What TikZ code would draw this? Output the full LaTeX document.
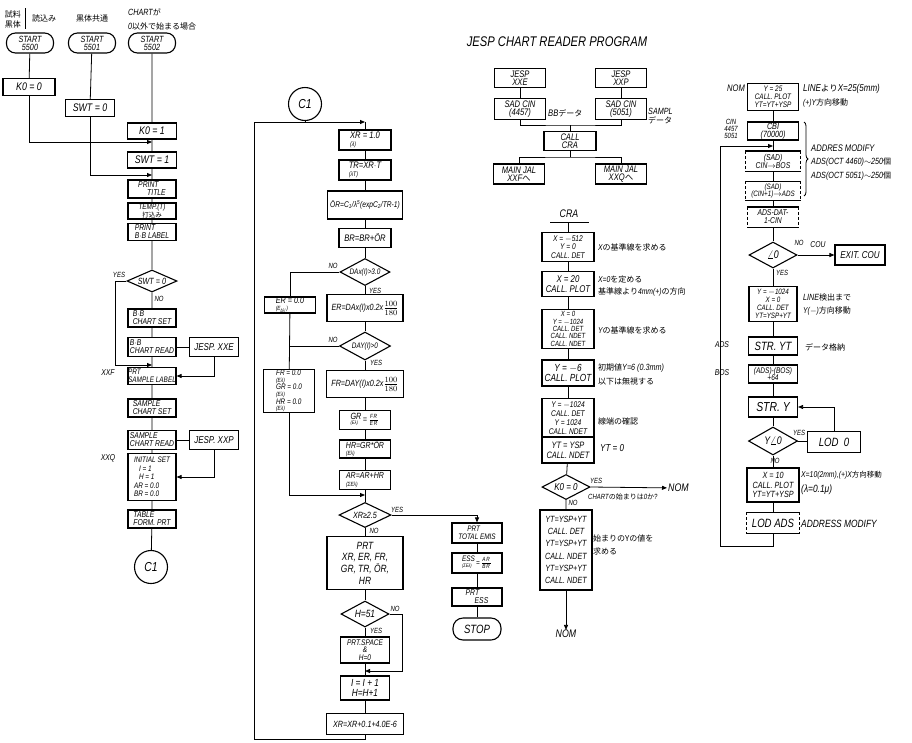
\documentclass[tikz,border=0pt]{standalone}
\usepackage{fontspec}
\setmainfont{Liberation Sans}[FakeStretch=0.8]
\newfontfamily\jpf{Noto Sans CJK JP}
\usetikzlibrary{arrows.meta,shapes.geometric,decorations.pathreplacing}
\newcommand{\jt}[1]{{\jpf\upshape #1}}
\newcommand{\fz}[2]{\fontsize{#1}{#2}\selectfont\itshape}
\newcommand{\dsides}[1]{%
  \draw[line width=1.1pt] (#1.north west) -- (#1.north east) (#1.south west) -- (#1.south east);
  \draw[line width=1.1pt, dash pattern=on 3pt off 2pt] (#1.north west) -- (#1.south west) (#1.north east) -- (#1.south east);}
\tikzset{
 wh/.style 2 args={minimum width=#1pt, minimum height=#2pt},
 bx/.style={draw, line width=1.1pt, inner sep=0pt, align=center, font=\fz{8.5}{8}},
 bxd/.style={bx, draw=none},
 term/.style={bx, rounded corners=9pt, font=\fz{9}{8}},
 dia/.style={draw, diamond, line width=1.1pt, inner sep=0pt, aspect=2, font=\fz{9}{9}},
 conn/.style={draw, circle, line width=1.1pt, minimum size=33pt, inner sep=0pt, font=\fz{13}{13}},
 ln/.style={line width=0.8pt},
 arr/.style={ln, -{Triangle[length=5pt,width=4pt]}},
 lab/.style={inner sep=0pt, font=\fz{7.5}{7.5}},
 note/.style={inner sep=0pt, anchor=west, font=\fz{8.5}{9}, align=left},
}
\begin{document}
\begin{tikzpicture}[x=1pt,y=-1pt]
\fill[white] (0,0) rectangle (912,742);
\useasboundingbox (0,0) rectangle (912,742);

% ---------------- column 1 ----------------
\node[lab, font=\jpf\fontsize{8}{10}\selectfont, align=center] (t1a) at (13,19) {試料\\黒体};
\coordinate (bar1) at (25,8); \coordinate (bar2) at (25,29);
\draw[line width=0.5pt] (bar1) -- (bar2);
\node[lab, font=\jpf\fontsize{8}{9}\selectfont] (t1b) at (44,18) {読込み};
\node[lab, font=\jpf\fontsize{8}{9}\selectfont] (t2) at (92,18) {黒体共通};
\node[note, font=\fz{9}{9}] (t3a) at (128,12) {CHART\jt{\fontsize{8}{9}\selectfont が}};
\node[note, font=\fz{9}{9}] (t3b) at (128,26) {0\jt{\fontsize{8}{9}\selectfont 以外で始まる場合}};

\node[term, wh={47}{20}] (s1) at (30,43) {START\\5500};
\node[term, wh={47}{20}] (s2) at (92,43) {START\\5501};
\node[term, wh={47}{20}] (s3) at (152,43) {START\\5502};

\node[bx, wh={52}{17}, font=\fz{11}{11}] (k00) at (29,87) {K0 = 0};
\node[bx, wh={49}{17}, font=\fz{11}{11}] (swt0) at (90,108) {SWT = 0};
\node[bx, wh={49}{16}, font=\fz{11}{11}] (k01) at (152,131) {K0 = 1};
\node[bx, wh={49}{16}, font=\fz{11}{11}] (swt1) at (152,160) {SWT = 1};
\node[bx, wh={48}{18}, align=left] (ptitle) at (152,189) {PRINT\\\hspace{9pt}TITLE};
\node[bx, wh={48}{16}, font=\fz{8}{7.5}] (temp) at (152,211) {TEMP.(T)\\\jt{\fontsize{6.5}{6.5}\selectfont 打込み}};
\node[bx, wh={48}{17}, align=left] (pbb) at (152,232) {PRINT\\B$\cdot$B LABEL};
\node[dia, wh={50}{22}] (dswt) at (152,281) {SWT = 0};
\node[bx, wh={48}{18}, align=left] (bbset) at (152,318) {B$\cdot$B\\CHART SET};
\node[bx, wh={48}{19}, align=left] (bbread) at (152,347) {B$\cdot$B\\CHART READ};
\node[bx, wh={49}{19}, font=\fz{10}{10}] (jxxe) at (214,347) {JESP. XXE};
\node[bx, wh={48}{17}, align=left, font=\fz{8}{7.8}] (psl) at (152,376) {PRT\\SAMPLE LABEL};
\node[bx, wh={48}{18}, align=left] (sset) at (152,408) {SAMPLE\\CHART SET};
\node[bx, wh={48}{19}, align=left] (sread) at (152,440) {SAMPLE\\CHART READ};
\node[bx, wh={49}{19}, font=\fz{10}{10}] (jxxp) at (214,440) {JESP. XXP};
\node[bx, wh={48}{47}, align=left, font=\fz{8}{8.4}] (init) at (152,477) {INITIAL SET\\\hspace{5pt}I = 1\\\hspace{5pt}H = 1\\AR = 0.0\\BR = 0.0};
\node[bx, wh={48}{18}, align=left] (table) at (152,519) {TABLE\\FORM. PRT};
\node[conn] (c1a) at (151,567) {C1};

\coordinate (j1) at (152,142);
\coordinate (j2) at (152,175);
\coordinate (j3) at (152,365);
\coordinate (yl) at (115,281);
\draw[ln] (s1) -- (k00);
\draw[ln] (s2) -- (swt0);
\draw[arr] (k00) |- (j1);
\draw[arr] (swt0) |- (j2);
\draw[ln] (s3) -- (k01) -- (swt1) -- (ptitle) -- (temp) -- (pbb) -- (dswt) -- (bbset) -- (bbread) -- (psl) -- (sset) -- (sread) -- (init) -- (table) -- (c1a);
\draw[ln] (bbread) -- (jxxe);
\draw[ln] (sread) -- (jxxp);
\draw[arr] (jxxe) |- (psl);
\draw[arr] (jxxp) |- (init);
\draw[arr] (dswt.west) -- (yl) |- (j3);
\node[lab] (ly1) at (119,275) {YES};
\node[lab] (ln1) at (159,299) {NO};
\node[lab, font=\fz{8.5}{8.5}] (lxxf) at (108,373) {XXF};
\node[lab, font=\fz{8.5}{8.5}] (lxxq) at (108,458) {XXQ};

% ---------------- column 2 ----------------
\node[conn] (c1b) at (305,104) {C1};
\node[bx, wh={52}{20}, align=left, font=\fz{9.5}{7.8}] (xr) at (365,140) {XR = 1.0\\{\fz{6.5}{6.5}(λ)}};
\node[bx, wh={52}{20}, align=left, font=\fz{9.5}{7.8}] (tr) at (365,170) {TR=XR$\cdot$T\\{\fz{6.5}{6.5}(λT)}};
\node[bx, wh={75}{28}, font=\fz{8.3}{8}] (or) at (365,205) {ÖR=C\textsubscript{1}/λ\textsuperscript{5}(expC\textsubscript{2}/TR-1)};
\node[bx, wh={52}{19}, font=\fz{9.5}{9}] (br) at (365,238) {BR=BR+ÖR};
\node[dia, wh={50}{27}, font=\fz{8}{8}] (d1) at (365,272) {DAx(I)>3.0};
\node[bx, wh={51}{16}, align=left, font=\fz{9}{7}] (er0) at (290,305) {ER = 0.0\\{\fz{6}{6}(E\textsubscript{bλ'})}};
\node[bx, wh={76}{27}, font=\fz{9}{8}] (er) at (365,308) {ER=DAx(I)x0.2x{\large$\frac{100}{180}$}};
\node[dia, wh={51}{28}, font=\fz{8}{8}] (d2) at (365,346) {DAY(I)>0};
\node[bx, wh={51}{42}, align=left, font=\fz{8}{6.6}] (fr0) at (289,391) {FR = 0.0\\{\fz{6}{6}(Eλ)}\\GR = 0.0\\{\fz{6}{6}(Eλ)}\\HR = 0.0\\{\fz{6}{6}(Eλ)}};
\node[bx, wh={77}{27}, font=\fz{9}{8}] (fr) at (365,384) {FR=DAY(I)x0.2x{\large$\frac{100}{180}$}};
\node[bx, wh={51}{19}, font=\fz{9}{7}] (gr) at (365,420) {\begin{tabular}{@{}l@{}}GR\\[-1.5pt]{\fz{5}{5}(Eλ)}\end{tabular}\,=\,$\frac{\mathit{FR}}{\mathit{ER}}$};
\node[bx, wh={51}{18}, align=left, font=\fz{8.8}{7.6}] (hr) at (365,449) {HR=GR*ÖR\\{\fz{6}{6}(Eλ)}};
\node[bx, wh={51}{19}, align=left, font=\fz{8.8}{7.8}] (ar) at (365,480) {AR=AR+HR\\{\fz{6}{6}(ΣEλ)}};
\node[dia, wh={52}{25}, font=\fz{9}{9}] (d3) at (365,515) {XR≥2.5};
\node[bx, wh={76}{53}, font=\fz{10.5}{11.6}] (prt) at (365,563) {PRT\\XR, ER, FR,\\GR, TR, ÖR,\\HR};
\node[dia, wh={48}{26}, font=\fz{10.5}{10}] (d4) at (365,614) {H=51};
\node[bx, wh={49}{26}, font=\fz{8.2}{7.8}] (sp) at (365,650) {PRT.SPACE\\\&\\H=0};
\node[bx, wh={49}{24}, font=\fz{10.3}{10.3}] (ii) at (365,688) {I = I + 1\\H=H+1};
\node[bx, wh={77}{21}, font=\fz{9}{9}] (xr2) at (365,724) {XR=XR+0.1+4.0E-6};

\coordinate (jtop) at (365,122);
\coordinate (jc1) at (305,122);
\coordinate (lp1) at (254,739);
\coordinate (jar) at (365,495);
\coordinate (jsp) at (365,671);
\coordinate (h51r) at (402,614);
\draw[ln] (c1b) -- (jc1);
\draw[ln] (jtop) -- (xr);
\draw[arr] (xr2.south) |- (lp1) |- (jtop);
\draw[ln] (xr) -- (tr) -- (or) -- (br) -- (d1) -- (er) -- (d2) -- (fr) -- (gr) -- (hr) -- (ar) -- (d3) -- (prt) -- (d4) -- (sp) -- (ii) -- (xr2);
\draw[ln] (d1.west) -| (er0.north);
\draw[ln] (er0) -- (fr0);
\draw[ln] (d2.west) -- (d2.west -| fr0.north);
\draw[arr] (fr0.south) |- (jar);
\draw[arr] (d4.east) -- (h51r) |- (jsp);
\node[lab] (ln2) at (333,266) {NO};
\node[lab] (ly2) at (375,291) {YES};
\node[lab] (ln3) at (333,340) {NO};
\node[lab] (ly3) at (376,363) {YES};
\node[lab] (ly4) at (397,510) {YES};
\node[lab] (ln4) at (374,531) {NO};
\node[lab] (ln5) at (395,609) {NO};
\node[lab] (ly5) at (376,631) {YES};

% ---------------- column 3 bottom ----------------
\node[bx, wh={50}{20}, align=left, font=\fz{8}{7.8}] (pte) at (477,533) {\hspace{9pt}PRT\\TOTAL EMIS};
\node[bx, wh={50}{20}, font=\fz{8}{7.5}] (ess) at (477,563) {\begin{tabular}{@{}l@{}}ESS\\[-1.5pt]{\fz{5}{5}(ΣEλ)}\end{tabular}\,=\,$\frac{\mathit{AR}}{\mathit{BR}}$};
\node[bx, wh={50}{18}, align=left, font=\fz{8.5}{8}] (pess) at (477,597) {PRT\\\hspace{9pt}ESS};
\node[term, wh={48}{22}, font=\fz{12}{12}, rounded corners=10pt] (stop) at (477,629) {STOP};
\draw[arr] (d3.east) -- (d3.east -| pte.north) -- (pte.north);
\draw[ln] (pte) -- (ess) -- (pess) -- (stop);

% ---------------- column 3 top ----------------
\node[lab, font=\fz{14}{14}] (title) at (557,42) {JESP CHART READER PROGRAM};
\node[bx, wh={51}{19}, font=\fz{9.5}{8}] (jxe) at (520,78) {JESP\\XXE};
\node[bx, wh={51}{21}, font=\fz{9.5}{8.5}] (sad1) at (520,109) {SAD CIN\\(4457)};
\node[bx, wh={51}{19}, font=\fz{9.5}{8}] (jxp) at (621,78) {JESP\\XXP};
\node[bx, wh={51}{21}, font=\fz{9.5}{8.5}] (sad2) at (621,109) {SAD CIN\\(5051)};
\node[note, font=\fz{9.5}{9}] (lbb) at (548,113) {BB\jt{\fontsize{8}{9}\selectfont データ}};
\node[note, font=\fz{9}{8.5}] (lsam) at (648,116) {SAMPL\\\jt{\fontsize{8}{8.5}\selectfont データ}};
\node[bx, wh={52}{19}, font=\fz{9.5}{8}] (cra) at (570,141) {CALL\\CRA};
\node[bx, wh={51}{20}, font=\fz{9.5}{8.5}] (mj1) at (519,174) {MAIN JAL\\XXF\jt{\fontsize{8.5}{8.5}\selectfont へ}};
\node[bx, wh={51}{20}, font=\fz{9.5}{8.5}] (mj2) at (621,174) {MAIN JAL\\XXQ\jt{\fontsize{8.5}{8.5}\selectfont へ}};
\coordinate (m1) at (570,125);
\coordinate (m2) at (570,157);
\draw[ln] (jxe) -- (sad1);
\draw[ln] (jxp) -- (sad2);
\draw[ln] (sad1.south) |- (m1) -| (sad2.south);
\draw[ln] (m1) -- (cra);
\draw[ln] (cra) -- (m2);
\draw[ln] (mj1.north) |- (m2) -| (mj2.north);

\node[lab, font=\fz{11}{11}] (crat) at (569,214) {CRA};
\coordinate (cral) at (550,222);
\coordinate (crar) at (589,222);
\coordinate (crac) at (568,222);
\draw[ln] (cral) -- (crar);
\node[bx, wh={52}{29}, font=\fz{8.3}{8.3}] (b1) at (568,247) {X = $-$512\\Y = 0\\CALL. DET};
\node[bx, wh={52}{25}, font=\fz{9.8}{10.5}] (b2) at (568,284) {X = 20\\CALL. PLOT};
\node[bx, wh={52}{39}, font=\fz{7.5}{7.4}] (b3) at (568,329) {X = 0\\Y = $-$1024\\CALL. DET\\CALL. NDET\\CALL. NDET};
\node[bx, wh={52}{26}, font=\fz{10.3}{10.5}] (b4) at (568,373) {Y = $-$6\\CALL. PLOT};
\node[bx, wh={52}{39}, font=\fz{8.3}{8.8}] (b5) at (568,418) {Y = $-$1024\\CALL. DET\\Y = 1024\\CALL. NDET};
\node[bx, wh={52}{26}, font=\fz{9.3}{10.3}] (b6) at (568,450) {YT = YSP\\CALL. NDET};
\node[dia, wh={48}{25}, font=\fz{10}{10}] (d5) at (566,487) {K0 = 0};
\node[bx, wh={52}{80}, font=\fz{9}{12.3}] (b7) at (566,550) {YT=YSP+YT\\CALL. DET\\YT=YSP+YT\\CALL. NDET\\YT=YSP+YT\\CALL. NDET};
\node[lab, font=\fz{11}{11}] (nom1) at (566,634) {NOM};
\node[lab, font=\fz{11}{11}, anchor=west, inner sep=1pt] (nomr) at (667,488) {NOM};
\draw[ln] (crac) -- (b1);
\draw[ln] (b1) -- (b2) -- (b3) -- (b4) -- (b5);
\draw[ln] (b6) -- (d5) -- (b7);
\draw[arr] (b7) -- (nom1);
\draw[arr] (d5.east) -- (nomr);
\node[note] (n1) at (598,247) {X\jt{\fontsize{8}{9}\selectfont の基準線を求める}};
\node[note] (n2) at (598,279) {X=0\jt{\fontsize{8}{9}\selectfont を定める}};
\node[note] (n3) at (598,292) {\jt{\fontsize{8}{9}\selectfont 基準線より}4mm(+)\jt{\fontsize{8}{9}\selectfont の方向}};
\node[note] (n4) at (598,330) {Y\jt{\fontsize{8}{9}\selectfont の基準線を求める}};
\node[note, font=\fz{9}{9}] (n5) at (598,368) {\jt{\fontsize{8}{9}\selectfont 初期値}Y=6 (0.3mm)};
\node[note] (n6) at (598,381) {\jt{\fontsize{8}{9}\selectfont 以下は無視する}};
\node[note] (n7) at (598,421) {\jt{\fontsize{8}{9}\selectfont 線端の確認}};
\node[note, font=\fz{10}{10}] (n8) at (600,448) {YT = 0};
\node[lab] (ly6) at (596,481) {YES};
\node[note, font=\fz{7.5}{7.5}] (n9) at (588,497) {CHART\jt{\fontsize{7}{7}\selectfont の始まりは}0\jt{\fontsize{7}{7}\selectfont か}?};
\node[lab] (ln6) at (573,503) {NO};
\node[note, font=\jpf\fontsize{8}{13}\selectfont] (n10) at (593,545) {始まりのYの値を\\求める};

% ---------------- column 4 ----------------
\node[lab, font=\fz{9.5}{9.5}] (nomt) at (736,88) {NOM};
\node[bx, wh={51}{27}, font=\fz{8}{7.8}] (c4a) at (773,97) {Y = 25\\CALL. PLOT\\YT=YT+YSP};
\node[note, font=\fz{10}{10}] (n11) at (803,89) {LINE\jt{\fontsize{8.5}{9}\selectfont より}X=25(5mm)};
\node[note] (n12) at (803,103) {(+)Y\jt{\fontsize{8}{9}\selectfont 方向移動}};
\node[lab, font=\fz{7.5}{6.8}, align=center] (ncin) at (731,129) {CIN\\4457\\5051};
\node[bx, wh={51}{18}, font=\fz{9}{8}] (c4b) at (773,131) {CBI\\(70000)};
\node[bxd, wh={54}{19}, font=\fz{8.5}{8}] (c4c) at (773,161) {(SAD)\\CIN$\rightarrow$BOS};
\node[bxd, wh={54}{18}, font=\fz{7.8}{7.8}] (c4d) at (773,191) {(SAD)\\(CIN+1)$\rightarrow$ADS};
\node[bxd, wh={50}{19}, font=\fz{8.5}{8}] (c4e) at (773,217) {ADS-DAT-\\1-CIN};
\dsides{c4c}\dsides{c4d}\dsides{c4e}
\draw[ln, decorate, decoration={brace, amplitude=4pt}] (804,122) -- (804,196);
\node[note, font=\fz{9.5}{10}] (n13) at (811,148) {ADDRES MODIFY};
\node[note, font=\fz{9}{10}] (n14) at (811,162) {ADS(OCT 4460)$\sim$250\jt{\fontsize{8}{9}\selectfont 個}};
\node[note, font=\fz{9}{10}] (n15) at (811,176) {ADS(OCT 5051)$\sim$250\jt{\fontsize{8}{9}\selectfont 個}};
\node[dia, wh={48}{26}, font=\fz{11}{11}] (d6) at (773,255) {$\angle$0};
\node[bx, wh={50}{20}, font=\fz{10}{10}] (exit) at (860,255) {EXIT. COU};
\node[lab] (ln7) at (799,243) {NO};
\node[lab, font=\fz{8.5}{8.5}] (lcou) at (818,245) {COU};
\node[lab] (ly7) at (782,273) {YES};
\node[bx, wh={48}{35}, font=\fz{7.8}{7.8}] (c4f) at (773,304) {Y = $-$1024\\X = 0\\CALL. DET\\YT=YSP+YT};
\node[note, font=\fz{9}{9}] (n16) at (803,297) {LINE\jt{\fontsize{8}{9}\selectfont 検出まで}};
\node[note] (n17) at (803,311) {Y($-$)\jt{\fontsize{8}{9}\selectfont 方向移動}};
\node[lab, font=\fz{8.5}{8.5}] (lads) at (722,345) {ADS};
\node[bx, wh={49}{18}, font=\fz{12}{12}] (c4g) at (773,346) {STR. YT};
\node[note] (n18) at (805,347) {\jt{\fontsize{8}{9}\selectfont データ格納}};
\node[lab, font=\fz{8.5}{8.5}] (lbos) at (722,373) {BOS};
\node[bx, wh={49}{18}, font=\fz{8.2}{7.6}] (c4h) at (773,374) {(ADS)-(BOS)\\+64};
\node[bx, wh={49}{20}, font=\fz{13}{13}] (c4i) at (773,407) {STR. Y};
\node[dia, wh={49}{28}, font=\fz{11}{11}] (d7) at (773,441) {Y$\angle$0};
\node[bx, wh={53}{21}, font=\fz{12}{12}] (lod0) at (834,442) {LOD\ \ 0};
\node[lab] (ly8) at (799,433) {YES};
\node[lab] (ln8) at (775,461) {NO};
\node[bx, wh={52}{34}, font=\fz{9}{9.6}] (c4j) at (773,485) {X = 10\\CALL. PLOT\\YT=YT+YSP};
\node[note, font=\fz{8.5}{9}] (n19) at (801,475) {X=10(2mm),(+)X\jt{\fontsize{7.5}{9}\selectfont 方向移動}};
\node[note, font=\fz{10.5}{10}] (n20) at (801,490) {(λ=0.1μ)};
\node[bxd, wh={52}{20}, font=\fz{12}{12}] (c4k) at (773,523) {LOD ADS};
\dsides{c4k}
\node[note, font=\fz{10.5}{10}] (n21) at (801,524) {ADDRESS MODIFY};

\coordinate (lp2) at (773,546);
\coordinate (lp3) at (720,146);
\coordinate (j4) at (773,146);
\draw[ln] (c4a) -- (c4b) -- (c4c) -- (c4d) -- (c4e) -- (d6) -- (c4f) -- (c4g) -- (c4h) -- (c4i) -- (d7) -- (c4j) -- (c4k);
\draw[arr] (d6) -- (exit);
\draw[ln] (d7) -- (lod0);
\draw[arr] (lod0.north) |- (c4i.east);
\draw[arr] (c4k.south) -- (lp2) -| (lp3) -- (j4);
\end{tikzpicture}
\end{document}
